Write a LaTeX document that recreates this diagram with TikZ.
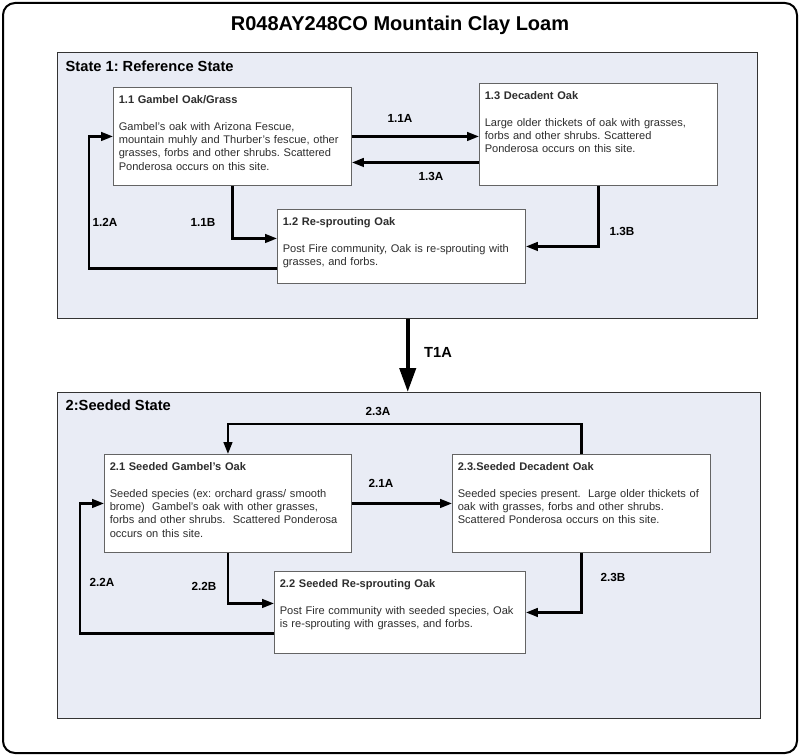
\documentclass[tikz,border=0pt]{standalone}
\usepackage{fontspec}
\setmainfont{Liberation Sans}
\usepackage{tikz}
\usetikzlibrary{calc}
\usetikzlibrary{arrows.meta}
\frenchspacing

\definecolor{statefill}{RGB}{233,236,245}
\definecolor{boxline}{RGB}{100,100,100}
\definecolor{boxtext}{RGB}{45,45,45}

\begin{document}
\begin{tikzpicture}[x=0.75pt,y=-0.75pt,
    statebox/.style={draw=black!80, line width=1.1pt, fill=statefill, anchor=north west, inner sep=0pt},
    phase/.style={draw=boxline, line width=0.7pt, fill=white, anchor=north west, align=left,
      inner xsep=4pt, inner ysep=5pt, text height=7pt, text=boxtext,
      font=\fontsize{8.3}{10}\selectfont},
    trans/.style={line width=1.8pt, -{Triangle[length=9pt,width=6.5pt]}},
    translabel/.style={font=\fontsize{8.8}{10}\selectfont\bfseries}]
  \useasboundingbox (0,0) rectangle (800,756);

  \draw[line width=1.5pt, rounded corners=9pt] (3,3) rectangle (797,753);
  \node[font=\fontsize{15}{18}\selectfont\bfseries] (title) at (400,25) {R048AY248CO Mountain Clay Loam};

  % state 1
  \node[statebox, minimum width=525pt, minimum height=199.5pt] (s1) at (57,52) {};
  \node[anchor=west, font=\fontsize{11}{13}\selectfont\bfseries] (s1label) at (61,66) {State 1: Reference State};

  \node[phase, text width=170.5pt, text depth=56.5pt] (g11) at (113,87)
    {\textbf{1.1 Gambel Oak/Grass}\\[10pt]
     Gambel's oak with Arizona Fescue,\\
     mountain muhly and Thurber's fescue, other\\
     grasses, forbs and other shrubs. Scattered\\
     Ponderosa occurs on this site.};
  \node[phase, text width=170.5pt, text depth=59.5pt] (g13) at (479,83)
    {\textbf{1.3 Decadent Oak}\\[10pt]
     Large older thickets of oak with grasses,\\
     forbs and other shrubs. Scattered\\
     Ponderosa occurs on this site.};
  \node[phase, text width=178pt, text depth=38.5pt] (g12) at (277,209)
    {\textbf{1.2 Re-sprouting Oak}\\[10pt]
     Post Fire community, Oak is re-sprouting with\\
     grasses, and forbs.};

  \draw[trans] (g11.east) -- (g13.west |- g11.east);
  \draw[trans] ($ (g13.west)+(0,28) $) -- (g11.east |- {$ (g13.west)+(0,28) $});
  \draw[trans] (g11.south) |- ($ (g12.west)+(0,-8) $);
  \draw[trans] ($ (g12.west)+(0,22) $) -| ($ (g11.west)+(-24,0) $) -- (g11.west);
  \draw[trans] (g13.south) |- (g12.east);

  \node[translabel] (l11a) at (400,118) {1.1A};
  \node[translabel] (l13a) at (431,176) {1.3A};
  \node[translabel] (l11b) at (203,222) {1.1B};
  \node[translabel] (l12a) at (105,222) {1.2A};
  \node[translabel] (l13b) at (622,231) {1.3B};

  % state 2
  \node[statebox, minimum width=527.25pt, minimum height=244.5pt] (s2) at (57,392) {};
  \node[anchor=west, font=\fontsize{11}{13}\selectfont\bfseries] (s2label) at (61,405) {2:Seeded State};

  \draw[line width=3pt, -{Triangle[length=18pt,width=12pt]}] (s1.south) -- (s1.south |- s2.north);
  \node[font=\fontsize{11}{13}\selectfont\bfseries] (lt1a) at (438,352) {T1A};

  \node[phase, text width=177.25pt, text depth=56.5pt] (g21) at (104,454)
    {\textbf{2.1 Seeded Gambel's Oak}\\[10pt]
     Seeded species (ex: orchard grass/ smooth\\
     brome)\ \ Gambel's oak with other grasses,\\
     forbs and other shrubs.\ \ Scattered Ponderosa\\
     occurs on this site.};
  \node[phase, text width=185.5pt, text depth=56.5pt] (g23) at (452,454)
    {\textbf{2.3.Seeded Decadent Oak}\\[10pt]
     Seeded species present.\ \ Large older thickets of\\
     oak with grasses, forbs and other shrubs.\\
     Scattered Ponderosa occurs on this site.};
  \node[phase, text width=180.25pt, text depth=44.5pt] (g22) at (274,571)
    {\textbf{2.2 Seeded Re-sprouting Oak}\\[10pt]
     Post Fire community with seeded species, Oak\\
     is re-sprouting with grasses, and forbs.};

  \draw[trans] (g23.north) -- ++(0,-30) -| (g21.north);
  \draw[trans] (g21.east) -- (g23.west);
  \draw[trans] (g21.south) |- ($ (g22.west)+(0,-9) $);
  \draw[trans] ($ (g22.west)+(0,21) $) -| ($ (g21.west)+(-24,0) $) -- (g21.west);
  \draw[trans] (g23.south) |- (g22.east);

  \node[translabel] (l23a) at (378,411) {2.3A};
  \node[translabel] (l21a) at (381,483) {2.1A};
  \node[translabel] (l22b) at (204,586) {2.2B};
  \node[translabel] (l22a) at (102,582) {2.2A};
  \node[translabel] (l23b) at (613,577) {2.3B};

\end{tikzpicture}
\end{document}
